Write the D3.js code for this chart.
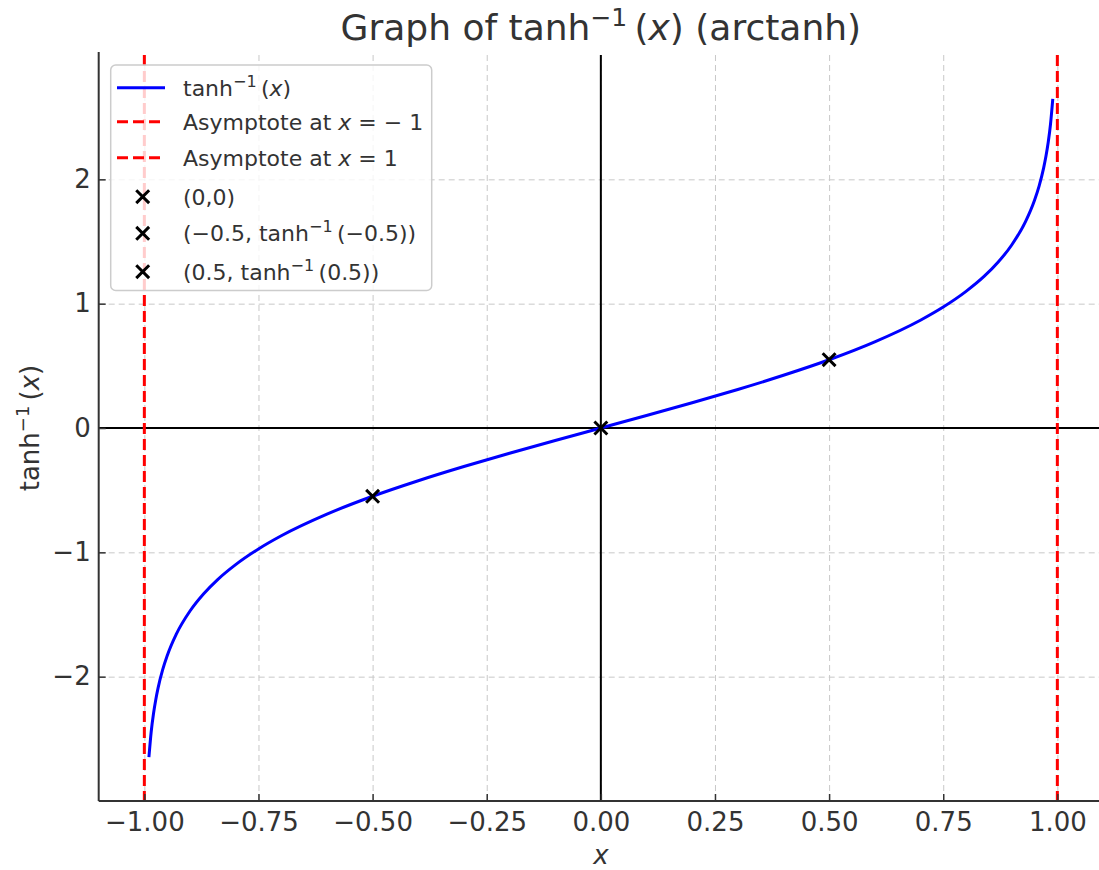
<!DOCTYPE html>
<html>
<head>
<meta charset="utf-8">
<script src="https://cdn.jsdelivr.net/npm/d3@7"></script>
<style>
  body { margin: 0; background: #fff; }
  text { font-family: "DejaVu Sans", sans-serif; fill: #333; }
</style>
</head>
<body>
<div id="chart"></div>
<script>
// curve values
const curveX = [-0.99, -0.985, -0.98, -0.975, -0.97, -0.96, -0.95, -0.93, -0.9, -0.87, -0.84, -0.8, -0.75, -0.7, -0.6, -0.5, -0.4, -0.3, -0.2, -0.1,
    0, 0.1, 0.2, 0.3, 0.4, 0.5, 0.6, 0.7, 0.75, 0.8, 0.84, 0.87, 0.9, 0.93, 0.95, 0.96, 0.97, 0.975, 0.98, 0.985, 0.99];
const curveY = [-2.647, -2.443, -2.298, -2.185, -2.092, -1.946, -1.832, -1.658, -1.472, -1.333, -1.221, -1.099, -0.973, -0.867, -0.693, -0.549, -0.424, -0.310, -0.203, -0.100,
    0, 0.100, 0.203, 0.310, 0.424, 0.549, 0.693, 0.867, 0.973, 1.099, 1.221, 1.333, 1.472, 1.658, 1.832, 1.946, 2.092, 2.185, 2.298, 2.443, 2.647];

const asymptotes = [-1, 1];
const pointsX = [0, -0.5, 0.5];
const pointsY = [0, -0.549, 0.549];

const xTicks = [-1, -0.75, -0.5, -0.25, 0, 0.25, 0.5, 0.75, 1];
const yTicks = [-2, -1, 0, 1, 2];

const width = 1099, height = 870;
const m = {left: 98.7, right: 1103, top: 55, bottom: 801};

const svg = d3.select("#chart").append("svg")
    .attr("width", width)
    .attr("height", height);

const x = d3.scaleLinear().domain([-1.1, 1.1]).range([m.left, m.right]);
const y = d3.scaleLinear().domain([-3, 3]).range([m.bottom, m.top]);

// grid
svg.append("g")
    .attr("transform", `translate(0,${m.bottom})`)
    .call(d3.axisBottom(x).tickValues(xTicks).tickSize(-(m.bottom - m.top)).tickFormat(""))
    .call(g => g.select(".domain").remove())
    .selectAll("line")
    .attr("stroke", "#c8c8c8").attr("stroke-width", 1).attr("stroke-dasharray", "6,4");

svg.append("g")
    .attr("transform", `translate(${m.left},0)`)
    .call(d3.axisLeft(y).tickValues(yTicks).tickSize(-(m.right - m.left)).tickFormat(""))
    .call(g => g.select(".domain").remove())
    .selectAll("line")
    .attr("stroke", "#c8c8c8").attr("stroke-width", 1).attr("stroke-dasharray", "6,4");

// zero lines
svg.append("line")
    .attr("x1", m.left).attr("x2", m.right)
    .attr("y1", y(0)).attr("y2", y(0))
    .attr("stroke", "#000").attr("stroke-width", 2);
svg.append("line")
    .attr("x1", x(0)).attr("x2", x(0))
    .attr("y1", m.top).attr("y2", m.bottom)
    .attr("stroke", "#000").attr("stroke-width", 2);

// asymptotes
svg.selectAll(".asym")
    .data(asymptotes)
    .enter()
    .append("line")
    .attr("class", "asym")
    .attr("x1", d => x(d)).attr("x2", d => x(d))
    .attr("y1", m.top).attr("y2", m.bottom)
    .attr("stroke", "#ff0000").attr("stroke-width", 3)
    .attr("stroke-dasharray", "11,5");

// curve
const line = d3.line()
    .x(d => x(d[0]))
    .y(d => y(d[1]))
    .curve(d3.curveMonotoneX);

svg.append("path")
    .datum(curveX.map((v, i) => [v, curveY[i]]))
    .attr("d", line)
    .attr("fill", "none")
    .attr("stroke", "#0000ff")
    .attr("stroke-width", 3);

// markers
const cross = d3.symbol().type(d3.symbolX).size(110);
svg.selectAll(".pt")
    .data(pointsX.map((v, i) => [v, pointsY[i]]))
    .enter()
    .append("path")
    .attr("class", "pt")
    .attr("d", cross)
    .attr("transform", d => `translate(${x(d[0])},${y(d[1])})`)
    .attr("fill", "none")
    .attr("stroke", "#000")
    .attr("stroke-width", 3);

// axes
const xAxis = svg.append("g")
    .attr("transform", `translate(0,${m.bottom})`)
    .call(d3.axisBottom(x).tickValues(xTicks).tickSize(-7).tickPadding(12).tickFormat(d3.format(".2f")));
xAxis.select(".domain").attr("stroke", "#333").attr("stroke-width", 2).attr("d", `M${m.left},0H${width}`);
xAxis.selectAll("line").attr("stroke", "#333").attr("stroke-width", 1.5);
xAxis.selectAll("text").style("font-size", "26px").attr("fill", "#333");

const yAxis = svg.append("g")
    .attr("transform", `translate(${m.left},0)`)
    .call(d3.axisLeft(y).tickValues(yTicks).tickSize(-7).tickPadding(8).tickFormat(d3.format("d")));
yAxis.select(".domain").attr("stroke", "#333").attr("stroke-width", 2).attr("d", `M0,${m.top - 3}V${m.bottom}`);
yAxis.selectAll("line").attr("stroke", "#333").attr("stroke-width", 1.5);
yAxis.selectAll("text").style("font-size", "26px").attr("fill", "#333");

// title
const title = svg.append("text")
    .attr("x", (m.left + m.right) / 2)
    .attr("y", 40)
    .attr("text-anchor", "middle")
    .style("font-size", "36px");
title.append("tspan").text("Graph of tanh");
title.append("tspan").attr("dy", -14).style("font-size", "25px").text("−1");
title.append("tspan").attr("dy", 14).text("\u2009(");
title.append("tspan").style("font-style", "italic").text("x");
title.append("tspan").text(") (arctanh)");

// axis labels
svg.append("text")
    .attr("x", (m.left + m.right) / 2)
    .attr("y", 864)
    .attr("text-anchor", "middle")
    .style("font-size", "26px")
    .style("font-style", "italic")
    .text("x");

const yl = svg.append("text")
    .attr("transform", `translate(39,${y(0)}) rotate(-90)`)
    .attr("text-anchor", "middle")
    .style("font-size", "26px");
yl.append("tspan").text("tanh");
yl.append("tspan").attr("dy", -10).style("font-size", "18px").text("−1");
yl.append("tspan").attr("dy", 10).text("\u2009(");
yl.append("tspan").style("font-style", "italic").text("x");
yl.append("tspan").text(")");

// legend
const legend = svg.append("g").attr("class", "legend");
legend.append("rect")
    .attr("x", 110.7).attr("y", 65)
    .attr("width", 321).attr("height", 225.5)
    .attr("rx", 5)
    .attr("fill", "#fff").attr("fill-opacity", 0.8)
    .attr("stroke", "#ccc").attr("stroke-width", 1.5);

const legendRows = [87.7, 121.7, 157.7, 196.7, 233.3, 271.7];
const lx = 183;
const fs = "22px";

legend.append("line").attr("x1", 117).attr("x2", 165).attr("y1", legendRows[0]).attr("y2", legendRows[0])
    .attr("stroke", "#0000ff").attr("stroke-width", 3);
[1, 2].forEach(i => {
    legend.append("line").attr("x1", 117).attr("x2", 165).attr("y1", legendRows[i]).attr("y2", legendRows[i])
        .attr("stroke", "#ff0000").attr("stroke-width", 3).attr("stroke-dasharray", "11,5");
});
[3, 4, 5].forEach(i => {
    legend.append("path").attr("d", cross)
        .attr("transform", `translate(142.7,${legendRows[i]})`)
        .attr("fill", "none").attr("stroke", "#000").attr("stroke-width", 3);
});

function legendText(row) {
    return legend.append("text").attr("x", lx).attr("y", legendRows[row] + 8).style("font-size", fs);
}
let t = legendText(0);
t.append("tspan").text("tanh");
t.append("tspan").attr("dy", -9).style("font-size", "16px").text("−1");
t.append("tspan").attr("dy", 9).text("\u2009(");
t.append("tspan").style("font-style", "italic").text("x");
t.append("tspan").text(")");

t = legendText(1);
t.append("tspan").text("Asymptote at ");
t.append("tspan").style("font-style", "italic").text("x");
t.append("tspan").text(" = − 1");

t = legendText(2);
t.append("tspan").text("Asymptote at ");
t.append("tspan").style("font-style", "italic").text("x");
t.append("tspan").text(" = 1");

t = legendText(3);
t.append("tspan").text("(0,0)");

t = legendText(4);
t.append("tspan").text("(−0.5, tanh");
t.append("tspan").attr("dy", -9).style("font-size", "16px").text("−1");
t.append("tspan").attr("dy", 9).text("\u2009(−0.5))");

t = legendText(5);
t.append("tspan").text("(0.5, tanh");
t.append("tspan").attr("dy", -9).style("font-size", "16px").text("−1");
t.append("tspan").attr("dy", 9).text("\u2009(0.5))");
</script>
</body>
</html>
